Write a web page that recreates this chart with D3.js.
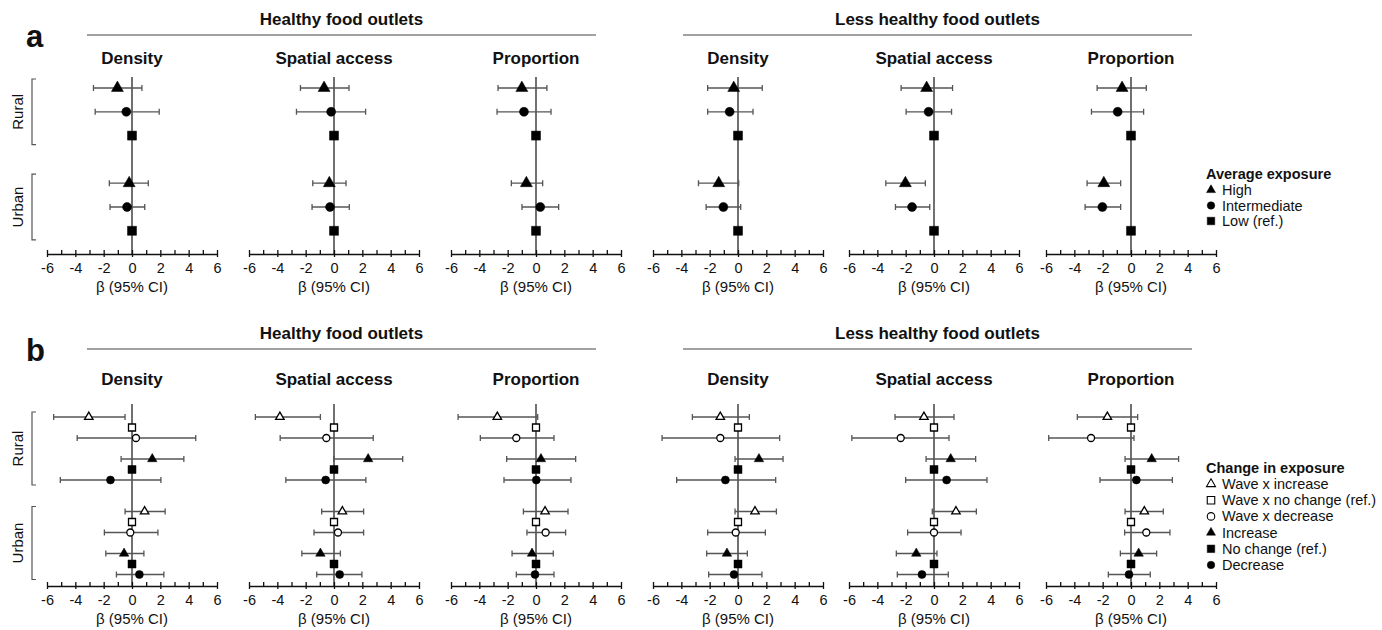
<!DOCTYPE html>
<html>
<head>
<meta charset="utf-8">
<script src="https://cdn.jsdelivr.net/npm/d3@7"></script>
<style>
  body { margin: 0; background: #fff; }
  text { font-family: Arial, "Liberation Sans", sans-serif; fill: #111; }
</style>
</head>
<body>
<div id="chart"></div>
<script>
// data
const outletGroups = ["Healthy food outlets", "Less healthy food outlets"]
const measures = ["Density", "Spatial access", "Proportion"]
const areas = ["Rural", "Urban"]
const tickValues = [-6, -4, -2, 0, 2, 4, 6]
const axisTitle = "β (95% CI)"

// panel a: rows per plot = Rural High, Rural Intermediate, Rural Low, Urban High, Urban Intermediate, Urban Low
const avgLevels = ["High", "Intermediate", "Low (ref.)"]
const avgEst = [
  [-1.03, -0.4, 0, -0.2, -0.35, 0],
  [-0.7, -0.2, 0, -0.33, -0.28, 0],
  [-1.0, -0.85, 0, -0.68, 0.3, 0],
  [-0.3, -0.59, 0, -1.36, -1.03, 0],
  [-0.52, -0.38, 0, -2.02, -1.55, 0],
  [-0.63, -0.94, 0, -1.92, -2.02, 0]
]
const avgLo = [
  [-2.72, -2.6, null, -1.6, -1.55, null],
  [-2.37, -2.65, null, -1.5, -1.55, null],
  [-2.68, -2.75, null, -1.74, -0.99, null],
  [-2.14, -2.14, null, -2.79, -2.25, null],
  [-2.32, -1.97, null, -3.4, -2.72, null],
  [-2.39, -2.79, null, -3.1, -3.24, null]
]
const avgHi = [
  [0.7, 1.92, null, 1.15, 0.9, null],
  [1.06, 2.23, null, 0.85, 1.08, null],
  [0.77, 1.06, null, 0.47, 1.6, null],
  [1.71, 1.06, null, 0.05, 0.19, null],
  [1.31, 1.24, null, -0.61, -0.3, null],
  [1.08, 0.89, null, -0.73, -0.73, null]
]

// panel b: rows per area = Wave x increase, Wave x no change, Wave x decrease, Increase, No change, Decrease
const changeLevels = ["Wave x increase", "Wave x no change (ref.)", "Wave x decrease", "Increase", "No change (ref.)", "Decrease"]
const chgEst = [
  [-3.05, 0, 0.28, 1.43, 0, -1.52, 0.89, 0, -0.12, -0.56, 0, 0.52],
  [-3.82, 0, -0.54, 2.41, 0, -0.59, 0.59, 0, 0.28, -0.96, 0, 0.4],
  [-2.73, 0, -1.39, 0.35, 0, 0.02, 0.64, 0, 0.68, -0.28, 0, -0.07],
  [-1.25, 0, -1.25, 1.48, 0, -0.89, 1.2, 0, -0.16, -0.78, 0, -0.28],
  [-0.71, 0, -2.35, 1.18, 0, 0.89, 1.55, 0, 0, -1.25, 0, -0.85],
  [-1.67, 0, -2.82, 1.46, 0, 0.38, 0.94, 0, 1.08, 0.54, 0, -0.14]
]
const chgLo = [
  [-5.53, null, -3.87, -0.77, null, -5.06, -0.49, null, -1.95, -1.85, null, -1.1],
  [-5.55, null, -3.8, -0.02, null, -3.4, -0.87, null, -1.41, -2.27, null, -1.22],
  [-5.5, null, -3.93, -2.07, null, -2.26, -0.89, null, -0.64, -1.69, null, -1.39],
  [-3.22, null, -5.36, -0.21, null, -4.33, -0.21, null, -2.14, -2.21, null, -2.07],
  [-2.75, null, -5.8, -0.56, null, -2.0, -0.12, null, -1.86, -2.66, null, -2.59],
  [-3.79, null, -5.81, -0.42, null, -2.19, -0.42, null, -0.45, -0.75, null, -1.6]
]
const chgHi = [
  [-0.49, null, 4.5, 3.66, null, 2.04, 2.34, null, 1.83, 0.84, null, 2.25],
  [-0.96, null, 2.77, 4.85, null, 2.25, 2.09, null, 2.09, 0.45, null, 1.97],
  [0.12, null, 1.27, 2.8, null, 2.47, 2.26, null, 2.09, 1.22, null, 1.27],
  [0.8, null, 2.94, 3.18, null, 2.66, 2.71, null, 1.93, 0.66, null, 1.69],
  [1.41, null, 1.06, 2.94, null, 3.74, 2.99, null, 1.91, 0.21, null, 1.01],
  [0.47, null, 0.21, 3.36, null, 2.92, 2.28, null, 2.75, 1.81, null, 1.36]
]

const W = 1382, H = 630
const svg = d3.select("#chart").append("svg")
  .attr("width", W).attr("height", H)

const plotLefts = [47, 249, 451, 653, 849, 1046]
const plotW = 170
const barColor = "#555"

// marker styles: [symbol type, filled]
const avgShapes = [[d3.symbolTriangle, true], [d3.symbolCircle, true], [d3.symbolSquare, true]]
const chgShapes = [[d3.symbolTriangle, false], [d3.symbolSquare, false], [d3.symbolCircle, false],
                   [d3.symbolTriangle, true], [d3.symbolSquare, true], [d3.symbolCircle, true]]

function symSize(type, px) {
  if (type === d3.symbolCircle) return Math.PI * (px / 2) * (px / 2)
  if (type === d3.symbolSquare) return px * px
  return px * px * Math.sqrt(3) / 4
}

function drawPanel(cfg) {
  const g = svg.append("g")

  // panel letter
  g.append("text").attr("x", 26).attr("y", cfg.letterY)
    .attr("font-size", 31).attr("font-weight", "bold").text(cfg.letter)

  // outlet group headers
  const headerSpans = [[87, 596], [683, 1192]]
  outletGroups.forEach((name, i) => {
    g.append("line")
      .attr("x1", headerSpans[i][0]).attr("x2", headerSpans[i][1])
      .attr("y1", cfg.headLineY).attr("y2", cfg.headLineY)
      .attr("stroke", "#444").attr("stroke-width", 1.2)
    g.append("text")
      .attr("x", (headerSpans[i][0] + headerSpans[i][1]) / 2)
      .attr("y", cfg.headLineY - 10)
      .attr("text-anchor", "middle").attr("font-size", 17).attr("font-weight", "bold")
      .text(name)
  })

  const yScale = d3.scaleLinear().domain([0, 1]).range([cfg.row0, cfg.row0 + cfg.rowStep])

  // area brackets + labels
  areas.forEach((a, ai) => {
    const slots = cfg.slots.slice(ai * cfg.perArea, (ai + 1) * cfg.perArea)
    const top = yScale(d3.min(slots)) - cfg.bracketPad
    const bot = yScale(d3.max(slots)) + cfg.bracketPad
    g.append("path")
      .attr("d", `M36,${top}H32V${bot}H36`)
      .attr("fill", "none").attr("stroke", "#555").attr("stroke-width", 1.2)
    g.append("text")
      .attr("transform", `translate(23,${(top + bot) / 2}) rotate(-90)`)
      .attr("text-anchor", "middle").attr("font-size", 15).text(a)
  })

  plotLefts.forEach((left, p) => {
    const x = d3.scaleLinear().domain([-6, 6]).range([left, left + plotW])
    const pg = g.append("g")

    pg.append("text")
      .attr("x", x(0)).attr("y", cfg.subY)
      .attr("text-anchor", "middle").attr("font-size", 17).attr("font-weight", "bold")
      .text(measures[p % 3])

    // zero line
    pg.append("line")
      .attr("x1", x(0)).attr("x2", x(0))
      .attr("y1", cfg.zeroTop).attr("y2", cfg.axisY)
      .attr("stroke", "#111").attr("stroke-width", 1.2)

    // axis, labelled ticks down, every unit up
    const ax = pg.append("g").attr("transform", `translate(0,${cfg.axisY})`)
      .call(d3.axisBottom(x).tickValues(tickValues).tickSize(3).tickSizeOuter(0).tickPadding(6)
        .tickFormat(d => String(d)))
    ax.select(".domain").attr("stroke", "#111").attr("stroke-width", 1.4)
    ax.selectAll(".tick line").attr("stroke", "#111").attr("stroke-width", 1.3)
    ax.selectAll(".tick text").attr("font-size", 14.5).attr("font-family", "Arial, 'Liberation Sans', sans-serif").attr("fill", "#111")
    const minor = pg.append("g").attr("transform", `translate(0,${cfg.axisY})`)
      .call(d3.axisBottom(x).tickValues(d3.range(-6, 7, 1)).tickSize(-4).tickSizeOuter(0).tickFormat(""))
    minor.select(".domain").remove()
    minor.selectAll(".tick line").attr("stroke", "#111").attr("stroke-width", 1.3)

    pg.append("text")
      .attr("x", x(0)).attr("y", cfg.axisY + 38)
      .attr("text-anchor", "middle").attr("font-size", 15).text(axisTitle)

    const rows = cfg.est[p].map((v, i) => ({
      v, lo: cfg.lo[p][i], hi: cfg.hi[p][i],
      y: yScale(cfg.slots[i]), shape: cfg.shapes[i % cfg.perArea]
    }))

    const withCI = rows.filter(r => r.lo !== null)
    pg.selectAll(".ci").data(withCI).enter().append("path")
      .attr("class", "ci")
      .attr("d", r => `M${x(r.lo)},${r.y}H${x(r.hi)}M${x(r.lo)},${r.y - cfg.cap}V${r.y + cfg.cap}M${x(r.hi)},${r.y - cfg.cap}V${r.y + cfg.cap}`)
      .attr("fill", "none").attr("stroke", barColor).attr("stroke-width", 1.3)

    pg.selectAll(".pt").data(rows).enter().append("path")
      .attr("class", "pt")
      .attr("transform", r => `translate(${x(r.v)},${r.y})`)
      .attr("d", r => d3.symbol().type(r.shape[0]).size(symSize(r.shape[0], cfg.markPx(r.shape)))())
      .attr("fill", r => r.shape[1] ? "#000" : "#fff")
      .attr("stroke", "#000").attr("stroke-width", r => r.shape[1] ? 0.5 : 1.3)
  })

  // legend
  const lg = g.append("g")
  lg.append("text").attr("x", cfg.legX).attr("y", cfg.legY)
    .attr("font-size", 14.5).attr("font-weight", "bold").text(cfg.legTitle)
  cfg.legItems.forEach((name, i) => {
    const y = cfg.legY + 16 + i * cfg.legStep
    const sh = cfg.shapes[i]
    lg.append("path")
      .attr("transform", `translate(${cfg.legX + 5},${y - 5})`)
      .attr("d", d3.symbol().type(sh[0]).size(symSize(sh[0], sh[0] === d3.symbolTriangle ? 9 : 7.5))())
      .attr("fill", sh[1] ? "#000" : "#fff").attr("stroke", "#000").attr("stroke-width", sh[1] ? 0.5 : 1.1)
    lg.append("text").attr("x", cfg.legX + 16).attr("y", y)
      .attr("font-size", 14.5).text(name)
  })
}

drawPanel({
  letter: "a", letterY: 47, headLineY: 35, subY: 64,
  row0: 88, rowStep: 23.8, slots: [0, 1, 2, 4, 5, 6], perArea: 3, bracketPad: 9,
  zeroTop: 77, axisY: 254, cap: 3,
  est: avgEst, lo: avgLo, hi: avgHi, shapes: avgShapes,
  markPx: s => s[0] === d3.symbolTriangle ? 12 : 9,
  legX: 1206, legY: 179, legStep: 15.5, legTitle: "Average exposure", legItems: avgLevels
})

drawPanel({
  letter: "b", letterY: 361, headLineY: 349, subY: 385,
  row0: 417, rowStep: 10.5, slots: [0, 1, 2, 4, 5, 6, 9, 10, 11, 13, 14, 15], perArea: 6, bracketPad: 5,
  zeroTop: 404, axisY: 586, cap: 3,
  est: chgEst, lo: chgLo, hi: chgHi, shapes: chgShapes,
  markPx: s => s[0] === d3.symbolTriangle ? (s[1] ? 9.5 : 8.5) : (s[1] ? 8 : 7),
  legX: 1206, legY: 473, legStep: 16.2, legTitle: "Change in exposure", legItems: changeLevels
})
</script>
</body>
</html>
